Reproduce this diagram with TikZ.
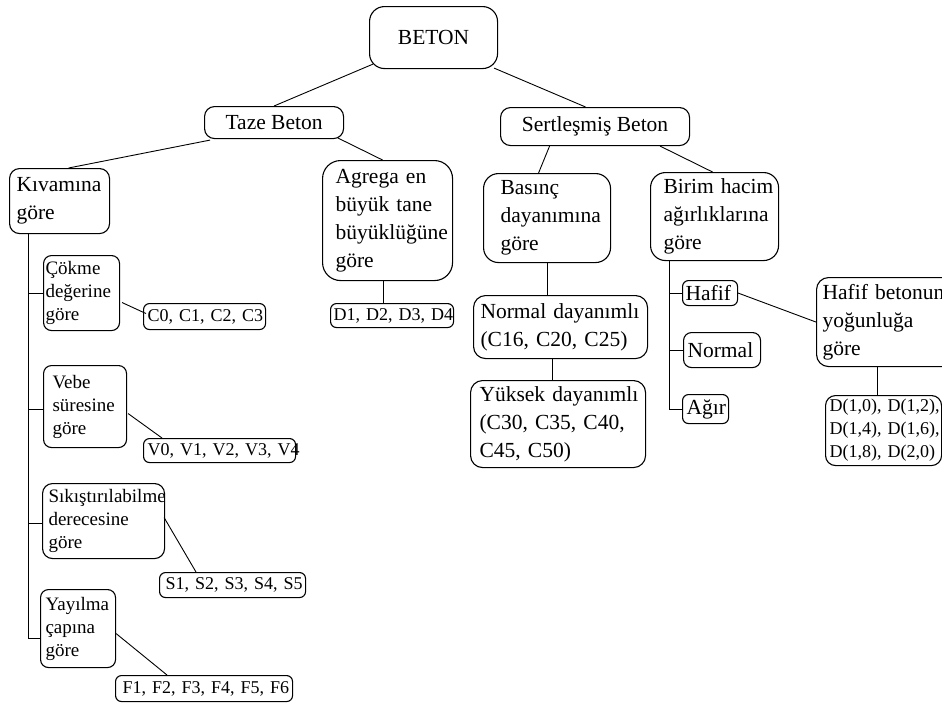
\documentclass[tikz,border=0pt]{standalone}
\usepackage{fontspec}
\setmainfont{Liberation Serif}
\usetikzlibrary{calc}
\hyphenpenalty=10000
\exhyphenpenalty=10000
\newcommand\mainsz{\fontsize{21.5}{28}\selectfont}
\newcommand\smsz{\fontsize{19}{23}\selectfont}
\newcommand\lstsz{\fontsize{18}{23}\selectfont}
\tikzset{
  bx/.style={draw, line width=1.1pt, anchor=north west, inner ysep=0pt, align=left, font=\mainsz},
  ctr/.style={bx, align=center},
  sm/.style={bx, font=\smsz},
  lst/.style={bx, font=\lstsz},
  ln/.style={line width=0.9pt},
}
\begin{document}
\begin{tikzpicture}[x=1pt,y=1pt]
\useasboundingbox (0,0) rectangle (942,-702);
\fill[white] (0,0) rectangle (942,-702);
\clip (0,0) rectangle (942,-702);

% top levels
\node[ctr, rounded corners=15pt, minimum width=128pt, minimum height=62pt] (BET) at (369,-6) {BETON};
\node[ctr, rounded corners=10pt, minimum width=139pt, minimum height=32pt] (Taze) at (204,-106) {Taze~Beton};
\node[ctr, rounded corners=10pt, minimum width=189pt, minimum height=38pt] (Sert) at (500,-107) {Sertleşmiş~Beton};

% second level
\node[bx, rounded corners=10pt, minimum width=100pt, minimum height=65pt, inner xsep=7pt, text width=86pt] (Kiv) at (9,-168) {Kıvamına\\göre};
\node[bx, rounded corners=18pt, minimum width=130pt, minimum height=120pt, inner xsep=13pt, text width=104pt] (Agr) at (322,-160) {Agrega~en\\büyük~tane\\büyüklüğüne\\göre};
\node[bx, rounded corners=15pt, minimum width=127pt, minimum height=89pt, inner xsep=17pt, text width=93pt] (Bas) at (483,-173) {Basınç\\dayanımına\\göre};
\node[bx, rounded corners=15pt, minimum width=128pt, minimum height=88pt, inner xsep=13pt, text width=102pt] (Bir) at (650,-172) {Birim~hacim\\ağırlıklarına\\göre};

% Kıvamına göre branches
\node[sm, rounded corners=8pt, minimum width=76pt, minimum height=75pt, inner xsep=2pt, text width=72pt] (Cok) at (43,-255) {Çökme\\değerine\\göre};
\node[sm, rounded corners=8pt, minimum width=83pt, minimum height=82pt, inner xsep=9pt, text width=65pt] (Vebe) at (43,-365) {Vebe\\süresine\\göre};
\node[sm, rounded corners=10pt, minimum width=122pt, minimum height=75pt, inner xsep=6pt, text width=110pt] (Sik) at (42,-483) {Sıkıştırılabilme\\derecesine\\göre};
\node[sm, rounded corners=8pt, minimum width=75pt, minimum height=78pt, inner xsep=5pt, text width=65pt] (Yay) at (40,-589) {Yayılma\\çapına\\göre};

\node[lst, rounded corners=6pt, minimum width=122pt, minimum height=26pt, inner xsep=4pt, text width=114pt] (C0) at (143,-303) {C0,~C1,~C2,~C3};
\node[lst, rounded corners=6pt, minimum width=152pt, minimum height=24pt, inner xsep=4pt, text width=144pt] (V0) at (143,-438) {V0,~V1,~V2,~V3,~V4};
\node[lst, rounded corners=6pt, minimum width=146pt, minimum height=25pt, inner xsep=6pt, text width=134pt] (S1) at (159,-572) {S1,~S2,~S3,~S4,~S5};
\node[lst, rounded corners=6pt, minimum width=177pt, minimum height=26pt, inner xsep=7pt, text width=163pt] (F1) at (115,-675) {F1,~F2,~F3,~F4,~F5,~F6};
\node[lst, rounded corners=6pt, minimum width=123pt, minimum height=24pt, inner xsep=3pt, text width=117pt] (D1) at (330,-303) {D1,~D2,~D3,~D4};

% Basınç branches
\node[bx, rounded corners=12pt, minimum width=174pt, minimum height=63pt, inner xsep=7pt, text width=160pt] (ND) at (473,-295) {Normal~dayanımlı\\(C16,~C20,~C25)};
\node[bx, rounded corners=12pt, minimum width=175pt, minimum height=87pt, inner xsep=9pt, text width=157pt] (YD) at (470,-380) {Yüksek~dayanımlı\\(C30,~C35,~C40,\\C45,~C50)};

% Birim hacim branches
\node[bx, rounded corners=6pt, minimum width=55pt, minimum height=25pt, inner xsep=3pt, text width=49pt] (Haf) at (682,-280) {Hafif};
\node[bx, rounded corners=8pt, minimum width=77pt, minimum height=35pt, inner xsep=4pt, text width=69pt] (Nor) at (683,-332) {Normal};
\node[bx, rounded corners=6pt, minimum width=46pt, minimum height=29pt, inner xsep=4pt, text width=38pt] (Agir) at (682,-394) {Ağır};
\node[bx, rounded corners=12pt, minimum width=150pt, minimum height=89pt, inner xsep=6pt, text width=138pt] (HB) at (816,-277) {Hafif~betonun\\yoğunluğa\\göre};
\node[lst, rounded corners=10pt, minimum width=116pt, minimum height=70pt, inner xsep=4pt, text width=108pt] (DB) at (825,-395) {D(1,0),~D(1,2),\\D(1,4),~D(1,6),\\D(1,8),~D(2,0)};

% connectors
\draw[ln] ($(BET.south west)+(4,5)$) -- (Taze.north);
\draw[ln] ($(BET.south east)+(-4,1)$) -- ($(Sert.north)+(-9.5,0)$);
\draw[ln] ($(Taze.south west)+(6,-1)$) -- ($(Kiv.north)+(9,0)$);
\draw[ln] ($(Taze.south east)+(-6,1)$) -- ($(Agr.north)+(-5,0)$);
\draw[ln] ($(Sert.south)+(-45.5,0)$) -- ($(Bas.north)+(-8.5,0)$);
\draw[ln] ($(Sert.south east)+(-30,0)$) -- ($(Bir.north)+(-2,0)$);

\coordinate (kt) at ($(Kiv.south west)+(19,0)$);
\coordinate (yb) at ($(Yay.west)+(0,-10)$);
\coordinate (vb) at ($(Vebe.west)+(0,-3)$);
\coordinate (sb) at ($(Sik.west)+(0,-2.5)$);
\draw[ln] (kt) |- (yb);
\draw[ln] (kt |- Cok.west) -- (Cok.west);
\draw[ln] (kt |- vb) -- (vb);
\draw[ln] (kt |- sb) -- (sb);

\draw[ln] ($(Cok.east)+(2,-9.5)$) -- ($(C0.west)+(3,3)$);
\draw[ln] ($(Vebe.east)+(1,-7)$) -- ($(V0.north west)+(19,0)$);
\draw[ln] ($(Sik.east)+(-1,3.5)$) -- ($(S1.north west)+(37,0)$);
\draw[ln] ($(Yay.east)+(0,-5)$) -- ($(F1.north west)+(52,0)$);

\coordinate (ad) at ($(Agr.south)+(-4,0)$);
\draw[ln] (ad) -- (ad |- D1.north);
\draw[ln] (Bas.south) -- (Bas.south |- ND.north);
\coordinate (ny) at ($(ND.south)+(-8,0)$);
\draw[ln] (ny) -- (ny |- YD.north);

\coordinate (bt) at ($(Bir.south west)+(19,0)$);
\draw[ln] (bt) |- (Agir.west);
\draw[ln] (bt |- Haf.west) -- (Haf.west);
\draw[ln] (bt |- Nor.west) -- (Nor.west);
\draw[ln] (Haf.east) -- (HB.west);
\coordinate (hd) at ($(HB.south west)+(61,0)$);
\draw[ln] (hd) -- (hd |- DB.north);
\end{tikzpicture}
\end{document}
